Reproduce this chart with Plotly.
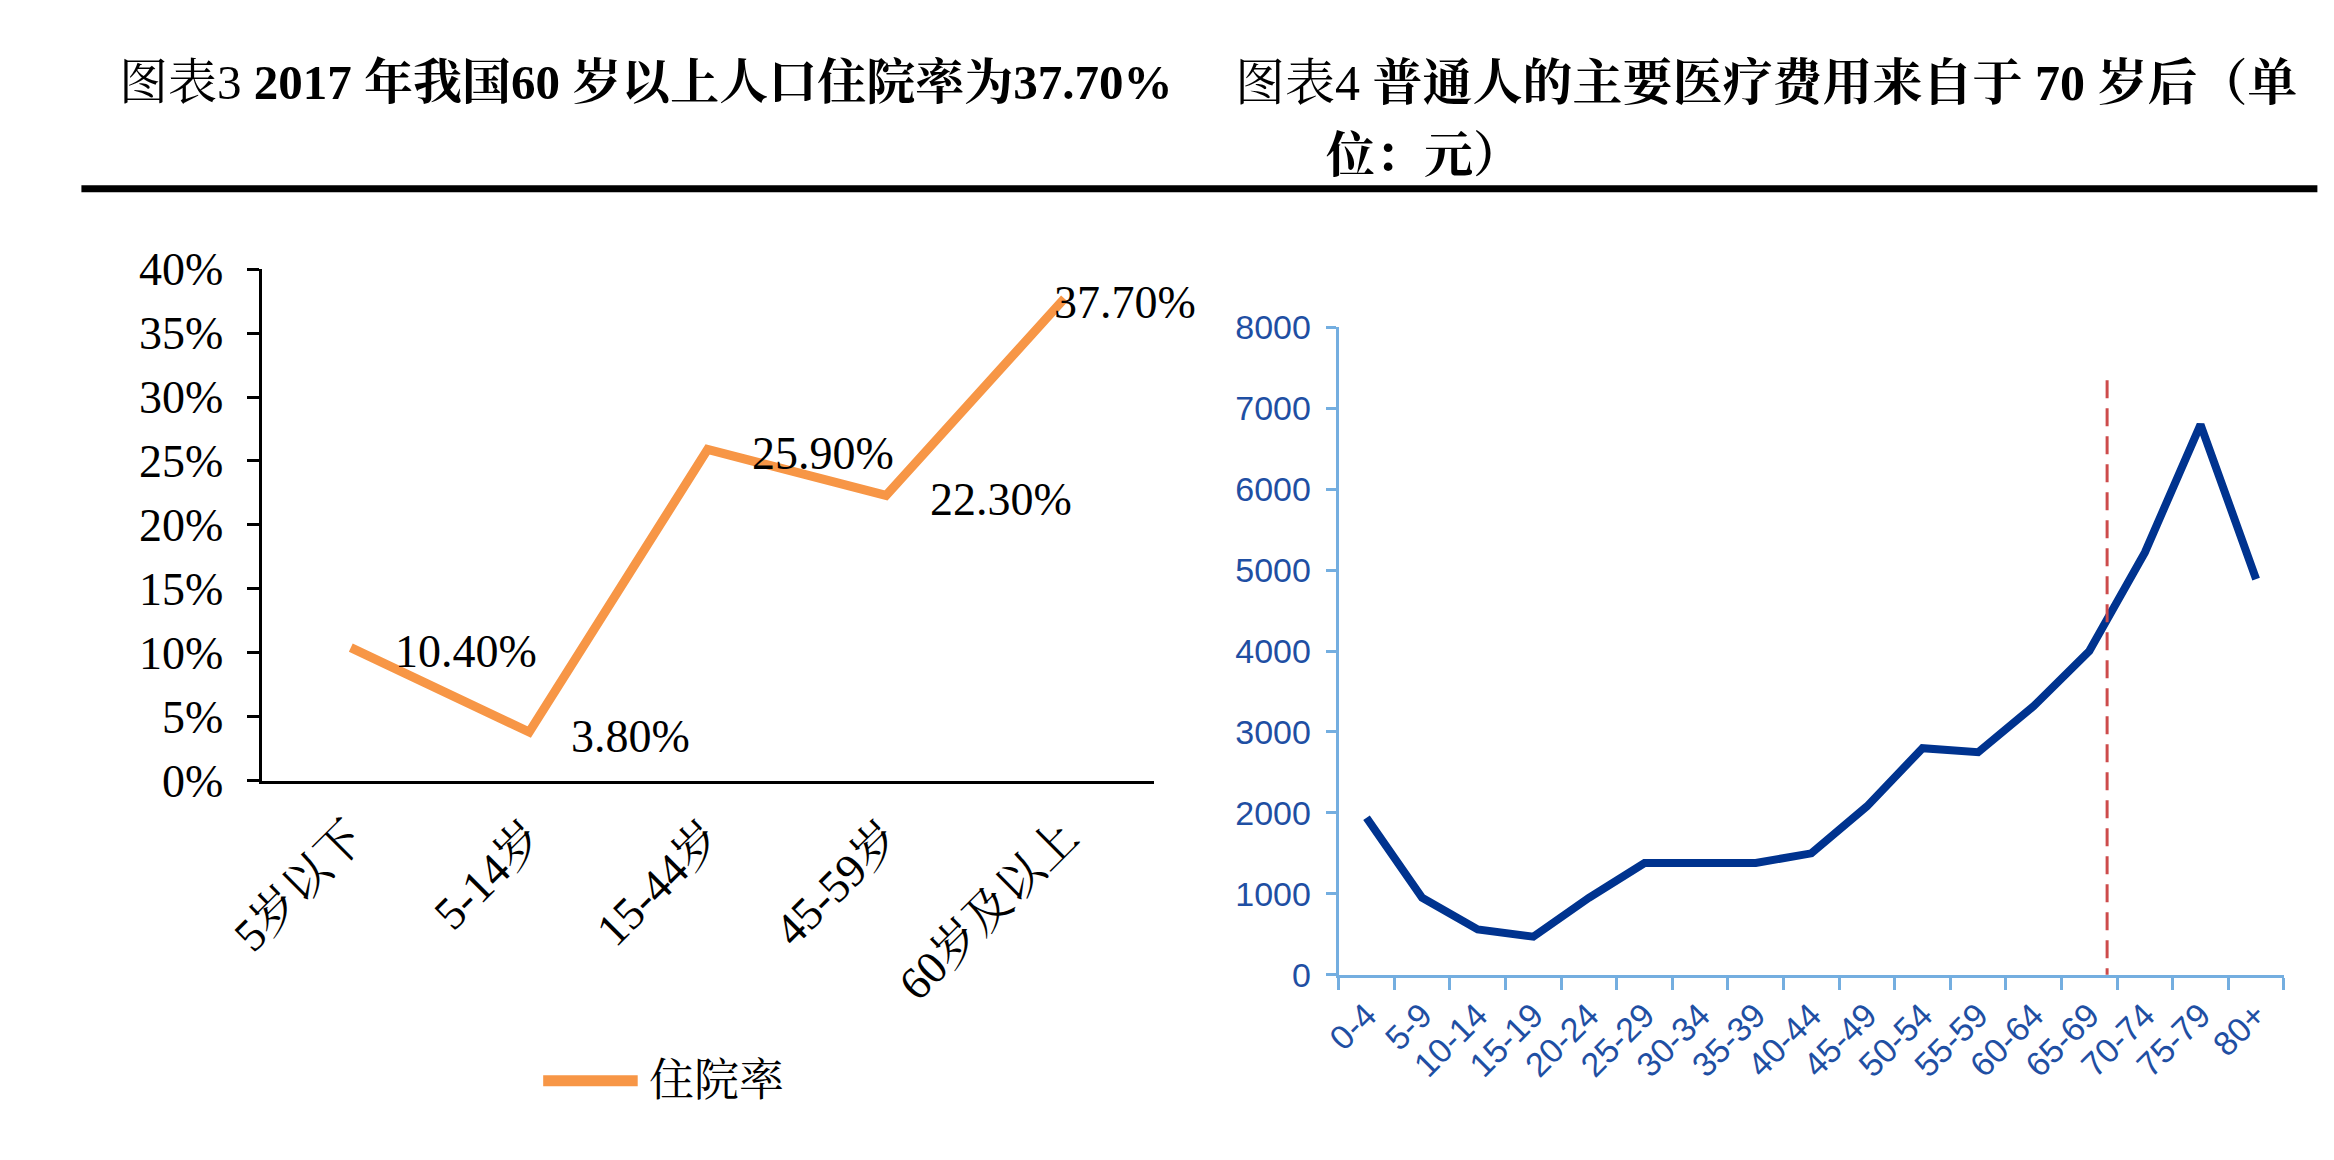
import plotly.graph_objects as go

# ---------------- data ----------------
left_categories = ["5岁以下", "5-14岁", "15-44岁", "45-59岁", "60岁及以上"]
left_values = [0.104, 0.038, 0.259, 0.223, 0.377]
left_labels = ["10.40%", "3.80%", "25.90%", "22.30%", "37.70%"]
left_series_name = "住院率"
left_y_ticks = [0, 0.05, 0.10, 0.15, 0.20, 0.25, 0.30, 0.35, 0.40]

right_categories = ["0-4", "5-9", "10-14", "15-19", "20-24", "25-29", "30-34",
                    "35-39", "40-44", "45-49", "50-54", "55-59", "60-64",
                    "65-69", "70-74", "75-79", "80+"]
right_values = [1940, 950, 560, 470, 950, 1380, 1380, 1380, 1500, 2080,
                2800, 2750, 3320, 4000, 5220, 6800, 4890]
right_y_ticks = [0, 1000, 2000, 3000, 4000, 5000, 6000, 7000, 8000]
marker_line_x = 13.32        # position of the red dashed divider (category index)
marker_line_y = [-490, 7380]

title_left = "图表3 <b>2017 年我国60 岁以上人口住院率为37.70%</b>"
title_right_1 = "图表4 <b>普通人的主要医疗费用来自于 70 岁后（单</b>"
title_right_2 = "<b>位：元）</b>"

# ---------------- styles ----------------
W, H = 2334, 1160
SERIF = "Liberation Serif, 'Noto Serif CJK SC', 'Noto Sans CJK SC', serif"
SANS = "'Liberation Sans Narrow', 'Arial Narrow', 'Liberation Sans', Arial, sans-serif"
ORANGE = "#F79646"
NAVY = "#00338F"
AXBLUE = "#74AEE0"
LABBLUE = "#1F4FA3"


def px_x(p):
    return p / W


def px_y(p):
    return 1 - p / H


fig = go.Figure()

fig.add_trace(go.Scatter(
    x=left_categories, y=left_values, mode="lines", name=left_series_name,
    line=dict(color=ORANGE, width=9), xaxis="x", yaxis="y", showlegend=False,
    hoverinfo="skip"))

fig.add_trace(go.Scatter(
    x=right_categories, y=right_values, mode="lines", name="医疗费用",
    line=dict(color=NAVY, width=8), xaxis="x2", yaxis="y2", showlegend=False,
    hoverinfo="skip"))

annotations = []
# data labels (left chart)
shifts = [42, 40, 42, 42, -12]
for c, v, t, s in zip(left_categories, left_values, left_labels, shifts):
    annotations.append(dict(
        x=c, y=v, xref="x", yref="y", text=t, showarrow=False,
        xanchor="left", yanchor="middle", xshift=s, yshift=-4,
        font=dict(family=SERIF, size=46, color="#000000")))

# titles
annotations.append(dict(
    x=px_x(74), y=px_y(52), xref="paper", yref="paper", text=title_left,
    showarrow=False, xanchor="left", yanchor="middle",
    font=dict(family=SERIF, size=49, color="#000000")))
annotations.append(dict(
    x=px_x(1208), y=px_y(52), xref="paper", yref="paper", text=title_right_1,
    showarrow=False, xanchor="left", yanchor="middle",
    font=dict(family=SERIF, size=50, color="#000000")))
annotations.append(dict(
    x=px_x(1300), y=px_y(128), xref="paper", yref="paper", text=title_right_2,
    showarrow=False, xanchor="left", yanchor="middle",
    font=dict(family=SERIF, size=49, color="#000000")))

# manual legend text
annotations.append(dict(
    x=px_x(612), y=px_y(1096), xref="paper", yref="paper", text=left_series_name,
    showarrow=False, xanchor="left", yanchor="middle",
    font=dict(family=SERIF, size=45, color="#000000")))

shapes = [
    # header rule
    dict(type="line", xref="paper", yref="paper",
         x0=px_x(38), x1=px_x(2309), y0=px_y(163), y1=px_y(163),
         line=dict(color="#000000", width=7)),
    # legend sample
    dict(type="line", xref="paper", yref="paper",
         x0=px_x(507), x1=px_x(603), y0=px_y(1096), y1=px_y(1096),
         line=dict(color=ORANGE, width=11)),
    # red dashed divider
    dict(type="line", xref="x2", yref="y2",
         x0=marker_line_x, x1=marker_line_x,
         y0=marker_line_y[0], y1=marker_line_y[1],
         line=dict(color="#CD4B4B", width=3, dash="18px,10px")),
]

fig.update_layout(
    width=W, height=H,
    margin=dict(l=0, r=0, t=0, b=0),
    paper_bgcolor="#FFFFFF", plot_bgcolor="#FFFFFF",
    showlegend=False,
    annotations=annotations,
    shapes=shapes,
    xaxis=dict(
        domain=[px_x(221), px_x(1127)], anchor="y", type="category",
        range=[-0.5, 4.5], showline=True, linecolor="#000000", linewidth=3,
        ticks="", showgrid=False, zeroline=False, tickangle=-45,
        ticklabelstandoff=8,
        tickfont=dict(family=SERIF, size=46, color="#000000")),
    yaxis=dict(
        domain=[px_y(782), px_y(247)], anchor="x", range=[0, 0.40],
        tickvals=left_y_ticks, tickformat=".0%",
        showline=True, linecolor="#000000", linewidth=3,
        ticks="outside", ticklen=12, tickwidth=3, tickcolor="#000000",
        showgrid=False, zeroline=False, ticklabelstandoff=14,
        tickfont=dict(family=SERIF, size=46, color="#000000")),
    xaxis2=dict(
        domain=[px_x(1315), px_x(2275)], anchor="y2", type="category",
        range=[-0.5, 16.5], showline=True, linecolor=AXBLUE, linewidth=3,
        ticks="outside", tickson="boundaries", ticklen=12, tickwidth=3,
        tickcolor=AXBLUE, showgrid=False, zeroline=False, tickangle=-45,
        ticklabelstandoff=4,
        tickfont=dict(family=SANS, size=34, color=LABBLUE)),
    yaxis2=dict(
        domain=[px_y(985), px_y(308)], anchor="x2", range=[0, 8000],
        tickvals=right_y_ticks, showline=True, linecolor=AXBLUE, linewidth=3,
        ticks="outside", ticklen=10, tickwidth=3, tickcolor=AXBLUE,
        showgrid=False, zeroline=False, ticklabelstandoff=8,
        tickfont=dict(family=SANS, size=34, color=LABBLUE)),
)

fig.write_html("out.html")
